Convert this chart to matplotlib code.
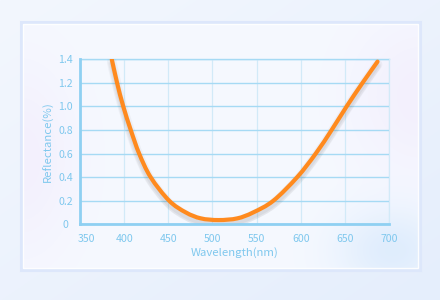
import numpy as np
import matplotlib
matplotlib.use('Agg')
import matplotlib.pyplot as plt
import matplotlib.patheffects as pe
from matplotlib.path import Path
from matplotlib.patches import PathPatch
from matplotlib.transforms import ScaledTranslation

plt.rcParams['font.family'] = ['Noto Sans CJK SC', 'DejaVu Sans']

# 数据: 反射率曲线
wavelength = [386, 392, 399, 407.5, 417, 430, 451, 470, 487, 507,
              528, 546, 569, 596, 617, 635, 652, 670, 687]
reflectance = [1.40, 1.20, 1.00, 0.80, 0.60, 0.40, 0.20, 0.10, 0.05, 0.036,
               0.05, 0.10, 0.20, 0.40, 0.60, 0.80, 1.00, 1.20, 1.38]
x_ticks = [350, 400, 450, 500, 550, 600, 650, 700]
y_ticks = [0, 0.2, 0.4, 0.6, 0.8, 1.0, 1.2, 1.4]
y_labels = ['0', '0.2', '0.4', '0.6', '0.8', '1.0', '1.2', '1.4']

txt_color = '#7fc8ee'
axis_color = '#8fd0f2'

fig = plt.figure(figsize=(4.4, 3.0), dpi=100)

# 背景渐变
bg = fig.add_axes([0, 0, 1, 1])
bg.axis('off')
h, w = 300, 440
yy, xx = np.mgrid[0:h, 0:w]
t = (xx / w + yy / h) / 2
c0 = np.array([243, 247, 254]) / 255
c1 = np.array([229, 238, 252]) / 255
img = c0[None, None, :] * (1 - t[..., None]) + c1[None, None, :] * t[..., None]
bg.imshow(img, extent=[0, w, h, 0], aspect='auto')

# 面板
px0, py0, px1, py1 = 21, 22, 420, 270
pw, ph = px1 - px0, py1 - py0
py, pxg = np.mgrid[0:ph, 0:pw]
u = pxg / pw
v = py / ph
base = np.array([246, 249, 255]) / 255
lav = np.array([241, 234, 252]) / 255
blue = np.array([214, 232, 252]) / 255
panel = np.ones((ph, pw, 3)) * base
wl_ = np.exp(-((u - 0.0) ** 2 / 0.02 + (v - 0.55) ** 2 / 0.15))
panel = panel * (1 - 0.6 * wl_[..., None]) + lav * 0.6 * wl_[..., None]
wr_ = np.exp(-((u - 1.0) ** 2 / 0.03 + (v - 0.3) ** 2 / 0.1))
panel = panel * (1 - 0.6 * wr_[..., None]) + lav * 0.6 * wr_[..., None]
wb_ = np.exp(-((u - 0.93) ** 2 / 0.02 + (v - 0.92) ** 2 / 0.03))
panel = panel * (1 - 0.7 * wb_[..., None]) + blue * 0.7 * wb_[..., None]
bg.imshow(panel, extent=[px0, px1, py1, py0], aspect='auto')
bg.add_patch(plt.Rectangle((px0, py0), pw, ph, fill=False, ec='#dde7fb', lw=2.2))
bg.add_patch(plt.Rectangle((px0 + 2, py0 + 2), pw - 4, ph - 4, fill=False, ec='#ffffff', lw=1.0, alpha=0.9))
bg.set_xlim(0, w)
bg.set_ylim(h, 0)

# 主图
ax = fig.add_axes([80 / 440, 1 - 224.3 / 300, 309 / 440, 165 / 300])
ax.set_facecolor('none')
ax.set_xlim(350, 700)
ax.set_ylim(0, 1.4)
ax.set_xticks(x_ticks)
ax.set_yticks(y_ticks)
ax.set_yticklabels(y_labels, ha='center')
ax.grid(axis='y', color='#a6daf4', lw=1.0)
ax.grid(axis='x', color='#d2eaf8', lw=0.9)
ax.set_axisbelow(True)
for s in ['top', 'right']:
    ax.spines[s].set_visible(False)
for s in ['left', 'bottom']:
    ax.spines[s].set_color(axis_color)
    ax.spines[s].set_linewidth(2.0)
ax.axhline(1.4, color='#a6daf4', lw=1.0, clip_on=False, zorder=0)
ax.axvline(700, color='#d2eaf8', lw=0.9, clip_on=False, zorder=0)
ax.tick_params(length=0, labelsize=7.6, labelcolor=txt_color)
ax.tick_params(axis='x', pad=7)
ax.tick_params(axis='y', pad=10.5)
lab0 = ax.xaxis.get_major_ticks()[0].label1
lab0.set_transform(lab0.get_transform() + ScaledTranslation(6 / 100, 0, fig.dpi_scale_trans))

# 平滑曲线 (Catmull-Rom -> 贝塞尔)
P = np.column_stack([wavelength, reflectance])
verts = [P[0]]
codes = [Path.MOVETO]
n = len(P)
for i in range(n - 1):
    p0 = P[max(i - 1, 0)]
    p1 = P[i]
    p2 = P[i + 1]
    p3 = P[min(i + 2, n - 1)]
    verts += [p1 + (p2 - p0) / 6, p2 - (p3 - p1) / 6, p2]
    codes += [Path.CURVE4] * 3
curve = PathPatch(Path(verts, codes), fill=False, ec='#ff8a1e', lw=3.0, capstyle='round',
                  path_effects=[pe.SimpleLineShadow(offset=(0, -2), shadow_color='#555555', alpha=0.05, linewidth=7),
                                pe.SimpleLineShadow(offset=(0, -3), shadow_color='#555555', alpha=0.06, linewidth=5),
                                pe.SimpleLineShadow(offset=(0, -3), shadow_color='#555555', alpha=0.07, linewidth=3),
                                pe.Normal()])
ax.add_patch(curve)

ax.set_xlabel('Wavelength(nm)', color=txt_color, fontsize=8.2, labelpad=2)
ax.set_ylabel('Reflectance(%)', color=txt_color, fontsize=8.2, labelpad=3)

fig.savefig('out.png', dpi=100)
